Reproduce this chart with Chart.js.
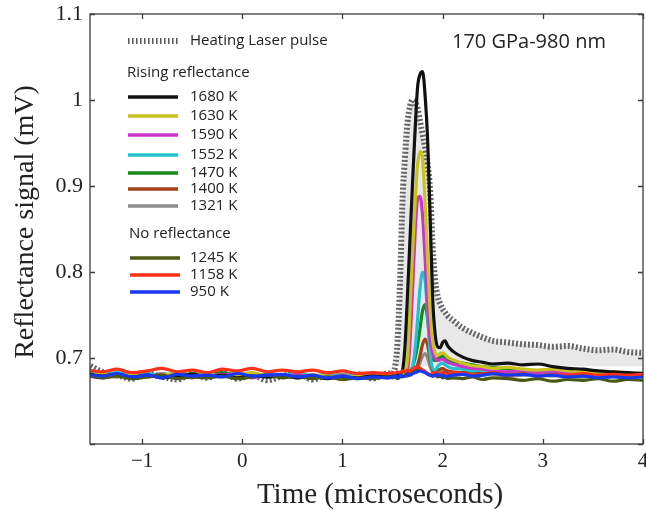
<!DOCTYPE html>
<html>
<head>
<meta charset="utf-8">
<script src="https://cdn.jsdelivr.net/npm/chart.js@4.4.0/dist/chart.umd.min.js"></script>
<style>
  html, body { margin: 0; padding: 0; background: #fff; }
  #wrap { width: 646px; height: 510px; }
</style>
</head>
<body>
<div id="wrap"><canvas id="c" width="646" height="510"></canvas></div>
<script>
// ---------- data ----------
// time axis (microseconds): baseline, peak, tail
const times = [
  -1.55, -1.4, -1.25, -1.1, -0.95, -0.8, -0.65, -0.5, -0.35, -0.2, -0.05, 0.1, 0.25, 0.4, 0.55, 0.7, 0.85, 1.0, 1.15, 1.3, 1.45,
  1.5, 1.525, 1.55, 1.575, 1.6, 1.625, 1.65, 1.675, 1.7, 1.725, 1.75, 1.775, 1.8, 1.825, 1.85, 1.875, 1.9, 1.925, 1.95, 1.975, 2.0, 2.025, 2.05, 2.1,
  2.2, 2.3, 2.4, 2.5, 2.65, 2.8, 2.95, 3.1, 3.25, 3.4, 3.55, 3.7, 3.85, 4.0
];

const laserPulse = [
  0.693, 0.684, 0.680, 0.676, 0.682, 0.678, 0.675, 0.681, 0.677, 0.683, 0.676, 0.680, 0.674, 0.679, 0.682, 0.675, 0.680, 0.677, 0.681, 0.676, 0.682,
  0.683, 0.690, 0.720, 0.790, 0.885, 0.935, 0.975, 0.993, 1.000, 0.998, 0.990, 0.975, 0.960, 0.945, 0.925, 0.895, 0.830, 0.790, 0.772, 0.763, 0.757, 0.753, 0.749, 0.744,
  0.735, 0.729, 0.724, 0.720, 0.718, 0.716, 0.715, 0.713, 0.714, 0.711, 0.709, 0.710, 0.707, 0.706
];

const k1680 = [
  0.682, 0.679, 0.681, 0.678, 0.680, 0.677, 0.679, 0.681, 0.678, 0.680, 0.677, 0.679, 0.678, 0.680, 0.677, 0.679, 0.676, 0.678, 0.677, 0.679, 0.678,
  0.679, 0.680, 0.680, 0.682, 0.686, 0.715, 0.775, 0.840, 0.905, 0.965, 1.015, 1.030, 1.033, 1.005, 0.955, 0.865, 0.770, 0.728, 0.713, 0.712, 0.718, 0.720, 0.714, 0.708,
  0.701, 0.697, 0.695, 0.693, 0.694, 0.692, 0.693, 0.690, 0.688, 0.687, 0.685, 0.684, 0.683, 0.682
];

const k1630 = [
  0.680, 0.682, 0.679, 0.681, 0.678, 0.680, 0.682, 0.679, 0.681, 0.678, 0.680, 0.683, 0.679, 0.681, 0.678, 0.680, 0.679, 0.677, 0.679, 0.678, 0.680,
  0.679, 0.680, 0.679, 0.680, 0.681, 0.684, 0.700, 0.760, 0.825, 0.880, 0.925, 0.940, 0.930, 0.880, 0.815, 0.755, 0.720, 0.706, 0.703, 0.705, 0.706, 0.704, 0.701, 0.698,
  0.694, 0.691, 0.690, 0.688, 0.689, 0.687, 0.686, 0.687, 0.685, 0.684, 0.683, 0.684, 0.682, 0.683
];

const k1590 = [
  0.679, 0.677, 0.680, 0.682, 0.678, 0.681, 0.677, 0.680, 0.678, 0.681, 0.679, 0.677, 0.680, 0.678, 0.681, 0.677, 0.679, 0.678, 0.676, 0.679, 0.677,
  0.678, 0.679, 0.678, 0.680, 0.679, 0.681, 0.686, 0.720, 0.780, 0.845, 0.885, 0.888, 0.865, 0.815, 0.760, 0.722, 0.705, 0.699, 0.697, 0.698, 0.699, 0.697, 0.695, 0.693,
  0.690, 0.688, 0.687, 0.685, 0.684, 0.686, 0.683, 0.685, 0.682, 0.684, 0.681, 0.683, 0.680, 0.682
];

const k1552 = [
  0.684, 0.681, 0.683, 0.680, 0.682, 0.679, 0.683, 0.680, 0.682, 0.679, 0.681, 0.678, 0.682, 0.680, 0.683, 0.679, 0.681, 0.678, 0.680, 0.677, 0.679,
  0.679, 0.680, 0.678, 0.679, 0.680, 0.679, 0.681, 0.683, 0.690, 0.710, 0.745, 0.782, 0.800, 0.790, 0.750, 0.705, 0.688, 0.686, 0.690, 0.693, 0.694, 0.692, 0.690, 0.688,
  0.687, 0.685, 0.686, 0.684, 0.683, 0.685, 0.682, 0.683, 0.681, 0.683, 0.680, 0.682, 0.679, 0.681
];

const k1470 = [
  0.681, 0.683, 0.680, 0.682, 0.679, 0.681, 0.678, 0.682, 0.680, 0.683, 0.679, 0.681, 0.678, 0.680, 0.682, 0.679, 0.680, 0.677, 0.679, 0.678, 0.680,
  0.679, 0.678, 0.680, 0.679, 0.681, 0.680, 0.682, 0.684, 0.690, 0.700, 0.715, 0.735, 0.755, 0.762, 0.745, 0.715, 0.700, 0.697, 0.699, 0.701, 0.702, 0.700, 0.698, 0.696,
  0.694, 0.692, 0.690, 0.689, 0.687, 0.686, 0.684, 0.685, 0.683, 0.682, 0.683, 0.681, 0.682, 0.680
];

const k1400 = [
  0.680, 0.678, 0.681, 0.679, 0.682, 0.678, 0.680, 0.677, 0.681, 0.679, 0.680, 0.678, 0.681, 0.679, 0.677, 0.680, 0.678, 0.679, 0.677, 0.678, 0.679,
  0.678, 0.679, 0.678, 0.680, 0.679, 0.680, 0.679, 0.681, 0.683, 0.686, 0.692, 0.703, 0.716, 0.722, 0.715, 0.698, 0.686, 0.684, 0.686, 0.687, 0.688, 0.686, 0.685, 0.684,
  0.683, 0.684, 0.682, 0.683, 0.681, 0.682, 0.680, 0.681, 0.679, 0.681, 0.679, 0.680, 0.678, 0.679
];

const k1321 = [
  0.683, 0.680, 0.678, 0.681, 0.679, 0.682, 0.679, 0.681, 0.678, 0.680, 0.683, 0.679, 0.681, 0.678, 0.680, 0.677, 0.679, 0.681, 0.678, 0.680, 0.678,
  0.679, 0.680, 0.679, 0.678, 0.680, 0.679, 0.680, 0.681, 0.682, 0.684, 0.688, 0.695, 0.702, 0.705, 0.700, 0.690, 0.684, 0.682, 0.683, 0.684, 0.684, 0.683, 0.682, 0.682,
  0.681, 0.682, 0.680, 0.681, 0.679, 0.680, 0.681, 0.679, 0.680, 0.678, 0.679, 0.680, 0.678, 0.679
];

const k1245 = [
  0.680, 0.677, 0.679, 0.676, 0.678, 0.680, 0.676, 0.678, 0.677, 0.679, 0.676, 0.678, 0.680, 0.677, 0.679, 0.676, 0.678, 0.675, 0.677, 0.676, 0.678,
  0.677, 0.678, 0.676, 0.678, 0.679, 0.680, 0.682, 0.683, 0.684, 0.685, 0.686, 0.687, 0.686, 0.684, 0.682, 0.680, 0.679, 0.680, 0.678, 0.679, 0.677, 0.678, 0.676, 0.677,
  0.676, 0.678, 0.675, 0.677, 0.676, 0.674, 0.676, 0.673, 0.675, 0.674, 0.676, 0.673, 0.675, 0.674
];

const k1158 = [
  0.686, 0.684, 0.687, 0.683, 0.685, 0.688, 0.684, 0.686, 0.683, 0.687, 0.685, 0.688, 0.684, 0.686, 0.684, 0.686, 0.683, 0.685, 0.682, 0.683, 0.682,
  0.683, 0.682, 0.684, 0.683, 0.685, 0.684, 0.686, 0.685, 0.687, 0.689, 0.690, 0.688, 0.686, 0.684, 0.682, 0.681, 0.682, 0.683, 0.681, 0.682, 0.683, 0.681, 0.682, 0.683,
  0.682, 0.680, 0.681, 0.683, 0.680, 0.682, 0.679, 0.681, 0.680, 0.682, 0.680, 0.681, 0.680, 0.681
];

const k950 = [
  0.681, 0.679, 0.682, 0.678, 0.680, 0.677, 0.681, 0.679, 0.680, 0.678, 0.682, 0.679, 0.680, 0.681, 0.678, 0.680, 0.677, 0.679, 0.676, 0.678, 0.677,
  0.678, 0.679, 0.677, 0.680, 0.678, 0.679, 0.681, 0.680, 0.682, 0.683, 0.684, 0.685, 0.684, 0.683, 0.681, 0.680, 0.679, 0.680, 0.681, 0.679, 0.680, 0.678, 0.679, 0.680,
  0.681, 0.679, 0.680, 0.682, 0.680, 0.681, 0.679, 0.680, 0.678, 0.679, 0.677, 0.678, 0.677, 0.678
];

const risingLabels = ['1680 K', '1630 K', '1590 K', '1552 K', '1470 K', '1400 K', '1321 K'];
const risingSeries = [k1680, k1630, k1590, k1552, k1470, k1400, k1321];
const noneLabels   = ['1245 K', '1158 K', '950 K'];
const noneSeries   = [k1245, k1158, k950];

const pulseLabel = 'Heating Laser pulse';
const risingTitle = 'Rising reflectance';
const noneTitle = 'No reflectance';
const annotation = '170 GPa-980 nm';
const xTitle = 'Time (microseconds)';
const yTitle = 'Reflectance signal (mV)';

// ---------- styles ----------
const risingColors = ['#111111', '#c9c21e', '#c934c9', '#22c2cc', '#178a1c', '#a2401a', '#8c8c8c'];
const noneColors   = ['#4b5a12', '#ff3018', '#1838f0'];
const SANS  = '"Open Sans", "Noto Sans", sans-serif';
const SERIF = '"Liberation Serif", "DejaVu Serif", serif';

function toPoints(vals) {
    return times.map((t, i) => ({ x: t, y: vals[i] }));
}

function lineSet(label, vals, color) {
    return {
        label: label,
        data: toPoints(vals),
        borderColor: color,
        borderWidth: 3.2,
        pointRadius: 0,
        cubicInterpolationMode: 'monotone',
        fill: false
    };
}

// first dataset is drawn on top, so baseline-only traces come first, pulse last
const datasets = [];
for (let k = noneLabels.length - 1; k >= 0; k--) {
    datasets.push(lineSet(noneLabels[k], noneSeries[k], noneColors[k]));
}
risingLabels.forEach((l, i) => datasets.push(lineSet(l, risingSeries[i], risingColors[i])));
datasets.push({
    label: pulseLabel,
    data: toPoints(laserPulse),
    borderColor: '#666666',
    borderWidth: 6,
    borderDash: [2, 2],
    pointRadius: 0,
    cubicInterpolationMode: 'monotone',
    fill: { target: { value: 0.69 }, above: 'rgba(205,205,205,0.45)', below: 'rgba(0,0,0,0)' }
});

// ---------- box, inward ticks, legend, titles ----------
const decor = {
    id: 'decor',
    afterDatasetsDraw(chart) {
        const { ctx, chartArea: a, scales: { x, y } } = chart;
        ctx.save();
        ctx.strokeStyle = '#3c3c3c';
        ctx.lineWidth = 1.3;
        ctx.setLineDash([]);
        ctx.strokeRect(a.left, a.top, a.right - a.left, a.bottom - a.top);

        ctx.beginPath();
        x.ticks.forEach(t => {
            const px = Math.round(x.getPixelForValue(t.value)) + 0.5;
            ctx.moveTo(px, a.bottom); ctx.lineTo(px, a.bottom - 5);
            ctx.moveTo(px, a.top);    ctx.lineTo(px, a.top + 5);
        });
        y.ticks.forEach(t => {
            const py = Math.round(y.getPixelForValue(t.value)) + 0.5;
            ctx.moveTo(a.left, py);  ctx.lineTo(a.left + 5, py);
            ctx.moveTo(a.right, py); ctx.lineTo(a.right - 5, py);
        });
        ctx.stroke();

        // legend
        const x0 = 128, x1 = 178, tx = 190;
        ctx.textBaseline = 'middle';
        ctx.fillStyle = '#222';
        ctx.font = '15px ' + SANS;

        ctx.strokeStyle = '#555';
        ctx.lineWidth = 6;
        ctx.setLineDash([1.5, 2.5]);
        ctx.beginPath(); ctx.moveTo(x0, 41); ctx.lineTo(x1, 41); ctx.stroke();
        ctx.setLineDash([]);
        ctx.fillText(pulseLabel, 190, 41);

        ctx.fillText(risingTitle, 127, 73);
        const risingY = [97, 116, 135, 155, 173, 189, 206];
        risingLabels.forEach((l, i) => {
            ctx.strokeStyle = risingColors[i];
            ctx.lineWidth = 3.5;
            ctx.beginPath(); ctx.moveTo(x0, risingY[i]); ctx.lineTo(x1, risingY[i]); ctx.stroke();
            ctx.fillText(l, tx, risingY[i]);
        });
        ctx.fillText(noneTitle, 129, 234);
        const noneY = [258, 275, 292];
        noneLabels.forEach((l, i) => {
            ctx.strokeStyle = noneColors[i];
            ctx.lineWidth = 3.5;
            ctx.beginPath(); ctx.moveTo(x0 + 2, noneY[i]); ctx.lineTo(x1 + 2, noneY[i]); ctx.stroke();
            ctx.fillText(l, tx, noneY[i]);
        });

        ctx.font = '20px ' + SANS;
        ctx.fillText(annotation, 452, 42);

        // axis titles
        ctx.fillStyle = '#222';
        ctx.font = '29px ' + SERIF;
        ctx.textAlign = 'center';
        ctx.textBaseline = 'alphabetic';
        ctx.fillText(xTitle, 380, 503);
        ctx.font = '28px ' + SERIF;
        ctx.translate(33, 222);
        ctx.rotate(-Math.PI / 2);
        ctx.fillText(yTitle, 0, 0);
        ctx.restore();
    }
};

new Chart(document.getElementById('c').getContext('2d'), {
    type: 'line',
    data: { datasets: datasets },
    plugins: [decor],
    options: {
        responsive: false,
        devicePixelRatio: 1,
        animation: false,
        layout: { padding: { left: 0, right: 3, top: 14, bottom: 0 } },
        scales: {
            x: {
                type: 'linear',
                min: -1.52,
                max: 4,
                afterFit: s => { s.height = 66; s.paddingLeft = 0; s.paddingRight = 0; },
                grid: { display: false, drawTicks: false },
                border: { display: false },
                ticks: {
                    stepSize: 1,
                    includeBounds: false,
                    padding: 5,
                    maxRotation: 0,
                    color: '#222',
                    font: { family: SERIF, size: 21 },
                    callback: v => v < 0 ? '\u2212' + Math.abs(v) : String(v)
                }
            },
            y: {
                min: 0.6,
                max: 1.1,
                afterFit: s => { s.width = 90; s.paddingTop = 0; s.paddingBottom = 0; },
                grid: { display: false, drawTicks: false },
                border: { display: false },
                ticks: {
                    stepSize: 0.1,
                    padding: 7,
                    color: '#222',
                    font: { family: SERIF, size: 22 },
                    callback: v => Math.abs(v - 0.6) < 1e-6 ? '' : String(+v.toFixed(1))
                }
            }
        },
        plugins: {
            legend: { display: false },
            tooltip: { enabled: false }
        }
    }
});
</script>
</body>
</html>
